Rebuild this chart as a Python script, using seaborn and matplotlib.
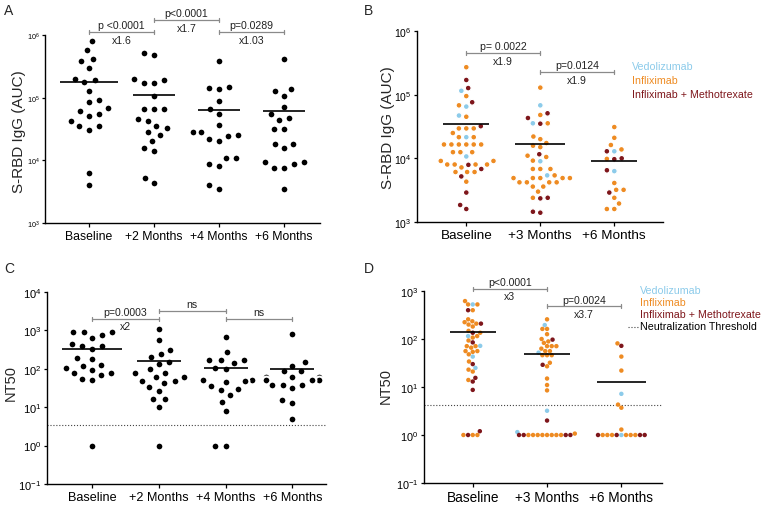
import numpy as np
import pandas as pd
import matplotlib
matplotlib.use("Agg")
import matplotlib.pyplot as plt
from matplotlib.lines import Line2D
from matplotlib.ticker import NullLocator
import seaborn as sns

sns.set_theme(style="ticks")
plt.rcParams["font.family"] = ["Liberation Sans", "DejaVu Sans"]
plt.rcParams["mathtext.default"] = "regular"

# ---------------- data ----------------
timepoints_AC = ["Baseline", "+2 Months", "+4 Months", "+6 Months"]
timepoints_BD = ["Baseline", "+3 Months", "+6 Months"]
treatments = ["Vedolizumab", "Infliximab", "Infliximab + Methotrexate"]
treatment_colors = ["#8CCBEA", "#EE8B22", "#7E161B"]

# Panel A: S-RBD IgG (AUC)
A_baseline = [7.9e5, 5.7e5, 4.2e5, 3.8e5, 3.0e5, 2.0e5, 1.8e5, 1.9e5, 1.3e5, 9.1e4, 8.4e4,
              6.8e4, 6.2e4, 5.5e4, 5.1e4, 4.3e4, 3.5e4, 3.5e4, 3.1e4, 6.2e3, 4.1e3]
A_2m = [5.1e5, 4.8e5, 2.0e5, 1.9e5, 1.7e5, 1.7e5, 1.07e5, 6.5e4, 6.5e4, 6.5e4, 4.6e4,
        4.3e4, 3.5e4, 3.3e4, 2.8e4, 2.5e4, 2.0e4, 1.55e4, 1.4e4, 5.2e3, 4.4e3]
A_4m = [3.9e5, 1.48e5, 1.45e5, 1.35e5, 8.7e4, 6.5e4, 5.5e4, 3.6e4, 2.8e4, 2.8e4, 2.5e4,
        2.45e4, 2.2e4, 2.0e4, 1.07e4, 1.07e4, 8.7e3, 8.1e3, 4.0e3, 3.5e3]
A_6m = [4.2e5, 1.38e5, 1.29e5, 1.07e5, 7.1e4, 5.4e4, 4.7e4, 4.4e4, 3.2e4, 3.2e4, 1.8e4,
        1.8e4, 1.55e4, 9.5e3, 9.3e3, 8.7e3, 7.6e3, 7.6e3, 3.5e3]

# Panel C: NT50
C_baseline = [912, 912, 912, 776, 650, 445, 385, 385, 333, 186, 182, 124, 115, 104, 91,
              79, 79, 68, 55, 50, 1]
C_2m = [1110, 560, 316, 250, 200, 150, 135, 96, 78, 78, 60, 60, 49, 49, 43, 33, 26, 16,
        16, 10, 1]
C_4m = [690, 280, 170, 170, 165, 142, 103, 100, 50, 50, 47, 46, 35, 30, 28, 21, 14, 8, 1, 1]
C_6m = [822, 152, 117, 87, 87, 63, 63, 63, 63, 50, 50, 50, 39, 39, 39, 32, 15, 13, 5]
C_threshold = 3.5

# Panel B: S-RBD IgG (AUC) by treatment
B_base_vedo = [1.15e5, 6.5e4, 4.7e4, 2.15e4, 1.07e4]
B_base_infl = [2.7e5, 9.5e4, 6.8e4, 4.5e4, 2.95e4, 2.95e4, 2.95e4, 2.5e4, 2.15e4, 2.15e4,
               1.65e4, 1.65e4, 1.65e4, 1.65e4, 1.65e4, 1.65e4, 1.25e4, 1.25e4, 1.25e4,
               9.1e3, 9.1e3, 8.0e3, 8.0e3, 8.0e3, 8.0e3, 7.2e3, 6.1e3, 6.1e3, 6.1e3, 4.3e3]
B_base_mtx = [1.7e5, 1.27e5, 7.6e4, 3.2e4, 7.9e3, 6.8e3, 5.2e3, 2.9e3, 1.85e3, 1.6e3]
B_3m_vedo = [6.8e4, 3.55e4, 9.0e3, 5.4e3]
B_3m_infl = [1.29e5, 4.8e4, 3.55e4, 2.2e4, 2.0e4, 1.74e4, 1.58e4, 1.5e4, 1.1e4, 1.05e4,
             9.2e3, 6.8e3, 6.8e3, 6.8e3, 5.4e3, 4.9e3, 4.9e3, 4.9e3, 4.9e3, 4.9e3,
             4.2e3, 4.2e3, 4.2e3, 4.2e3, 3.6e3, 3.6e3, 3.0e3, 2.4e3]
B_3m_mtx = [5.1e4, 4.3e4, 3.5e4, 1.16e4, 2.4e3, 2.35e3, 1.45e3, 1.4e3]
B_6m_vedo = [1.29e4, 6.3e3]
B_6m_infl = [3.1e4, 2.1e4, 1.62e4, 1.38e4, 9.8e3, 4.1e3, 3.2e3, 3.2e3, 2.4e3, 1.95e3,
             1.6e3, 1.6e3]
B_6m_mtx = [1.29e4, 1.0e4, 9.7e3, 6.5e3, 2.9e3]

# Panel D: NT50 by treatment
D_base_vedo = [525, 115, 72, 43, 25]
D_base_infl = [617, 525, 525, 398, 257, 234, 224, 209, 200, 182, 148, 135, 115, 107, 93,
               71, 71, 66, 56, 56, 54, 48, 34, 23, 21, 14, 1, 1, 1]
D_base_mtx = [398, 209, 135, 85, 30, 15.5, 13, 8.7, 1.2, 1]
D_3m_vedo = [195, 52, 3.2, 1.15]
D_3m_infl = [257, 162, 162, 126, 100, 89, 83, 71, 71, 71, 63, 56, 56, 46, 46, 46, 32, 27,
             15, 11, 8.5, 1.07, 1, 1, 1, 1, 1, 1, 1, 1]
D_3m_mtx = [97, 29, 2.0, 1, 1, 1, 1]
D_6m_vedo = [7.2, 1]
D_6m_infl = [81, 43, 22, 4.3, 3.7, 1.3, 1, 1, 1, 1, 1, 1]
D_6m_mtx = [72, 1, 1, 1, 1]
D_threshold = 4.3

# ---------------- tables ----------------
def simple_df(times, groups):
    return pd.DataFrame({"time": np.repeat(times, [len(g) for g in groups]),
                         "value": np.concatenate(groups)})


def treat_df(times, per_time):
    rows = []
    for t, groups in zip(times, per_time):
        for tr, vals in zip(treatments, groups):
            for v in vals:
                rows.append((t, tr, v))
    return pd.DataFrame(rows, columns=["time", "treatment", "value"])


dfA = simple_df(timepoints_AC, [A_baseline, A_2m, A_4m, A_6m])
dfC = simple_df(timepoints_AC, [C_baseline, C_2m, C_4m, C_6m])
dfB = treat_df(timepoints_BD, [[B_base_vedo, B_base_infl, B_base_mtx],
                               [B_3m_vedo, B_3m_infl, B_3m_mtx],
                               [B_6m_vedo, B_6m_infl, B_6m_mtx]])
dfD = treat_df(timepoints_BD, [[D_base_vedo, D_base_infl, D_base_mtx],
                               [D_3m_vedo, D_3m_infl, D_3m_mtx],
                               [D_6m_vedo, D_6m_infl, D_6m_mtx]])

# ---------------- figure ----------------
W, H = 763, 506
fig = plt.figure(figsize=(W / 100, H / 100), dpi=100)


def rect(l, r, t, b):
    return [l / W, 1 - b / H, (r - l) / W, (b - t) / H]


GREY = "#8a8a8a"
palette = dict(zip(treatments, treatment_colors))


def panel(r, df, order, xlim, ylim, size, lw, hue, halfw, xfs, yfs):
    ax = fig.add_axes(r)
    ax.set_yscale("log")
    kws = dict(data=df, x="time", y="value", order=order, size=size, linewidth=lw,
               edgecolor="white", ax=ax, zorder=2)
    if hue:
        sns.swarmplot(hue="treatment", hue_order=treatments, palette=palette,
                      legend=False, **kws)
    else:
        sns.swarmplot(color="black", **kws)
    means = df.groupby("time")["value"].mean().reindex(order).values
    pos = np.arange(len(order))
    hw = np.asarray(halfw)
    ax.hlines(means, pos - hw, pos + hw, color="black", lw=1.2, zorder=3)
    ax.set_xlim(*xlim)
    ax.set_ylim(*ylim)
    lo, hi = int(np.log10(ylim[0])), int(np.log10(ylim[1]))
    ax.set_yticks([10.0 ** k for k in range(lo, hi + 1)])
    ax.yaxis.set_minor_locator(NullLocator())
    ax.set_xlabel("")
    ax.set_ylabel("")
    sns.despine(ax=ax)
    for s in ("left", "bottom"):
        ax.spines[s].set_linewidth(1.0)
        ax.spines[s].set_color("black")
    ax.tick_params(axis="x", length=3, width=0.9, pad=2, labelsize=xfs, colors="black")
    ax.tick_params(axis="y", length=2.5, width=0.9, pad=1.5, labelsize=yfs, colors="black")
    return ax


def bracket(ax, x0, x1, yfrac, hpx, top, bottom=None):
    tr = ax.get_xaxis_transform()
    t = 2.0 / hpx
    ax.plot([x0, x1], [yfrac, yfrac], transform=tr, color=GREY, lw=0.9, clip_on=False)
    for xx in (x0, x1):
        ax.plot([xx, xx], [yfrac - t, yfrac + t], transform=tr, color=GREY, lw=0.9,
                clip_on=False)
    xm = (x0 + x1) / 2
    ax.annotate(top, (xm, yfrac), xycoords=tr, xytext=(0, 4.8), textcoords="offset points",
                ha="center", va="center", fontsize=7.6, color="#222222")
    if bottom:
        ax.annotate(bottom, (xm, yfrac), xycoords=tr, xytext=(0, -5.6),
                    textcoords="offset points", ha="center", va="center", fontsize=7.6,
                    color="#222222")


# Panel A
axA = panel(rect(45, 320, 36, 224), dfA, timepoints_AC, (-0.677, 3.554), (1e3, 1e6),
            5.6, 1.5, False, [0.45, 0.33, 0.33, 0.33], 8.8, 5.2)
bracket(axA, 0, 1, 1.016, 188, "p <0.0001", "x1.6")
bracket(axA, 1, 2, 1.081, 188, "p<0.0001", "x1.7")
bracket(axA, 2, 3, 1.016, 188, "p=0.0289", "x1.03")

# Panel B
axB = panel(rect(417, 663, 32, 223), dfB, timepoints_BD, (-0.666, 2.658), (1e3, 1e6),
            4.2, 0.9, True, [0.31, 0.34, 0.31], 9.7, 7.5)
bracket(axB, 0, 1, 0.884, 190, "p= 0.0022", "x1.9")
bracket(axB, 1, 2, 0.785, 190, "p=0.0124", "x1.9")

# Panel C
axC = panel(rect(47, 326, 293, 485), dfC, timepoints_AC, (-0.678, 3.503), (1e-1, 1e4),
            5.6, 1.5, False, [0.45, 0.33, 0.33, 0.33], 9.1, 8.0)
axC.axhline(C_threshold, color="#444444", lw=0.8, ls=":", zorder=1)
bracket(axC, 0, 1, 0.861, 192, "p=0.0003", "x2")
bracket(axC, 1, 2, 0.901, 192, "ns")
bracket(axC, 2, 3, 0.861, 192, "ns")

# Panel D
axD = panel(rect(424, 662, 292, 484), dfD, timepoints_BD, (-0.656, 2.547), (1e-1, 1e3),
            3.2, 0.0, True, [0.31, 0.31, 0.33], 9.8, 7.8)
axD.axhline(D_threshold, color="#444444", lw=0.8, ls=":", zorder=1)
bracket(axD, 0, 1, 1.012, 192, "p<0.0001", "x3")
bracket(axD, 1, 2, 0.920, 192, "p=0.0024", "x3.7")

# y labels
fig.text(19 / W, 1 - 132 / H, "S-RBD IgG (AUC)", rotation=90, ha="center", va="center",
         fontsize=11)
fig.text(388 / W, 1 - 128 / H, "S-RBD IgG (AUC)", rotation=90, ha="center", va="center",
         fontsize=11)
fig.text(11 / W, 1 - 383 / H, "NT50", rotation=90, ha="center", va="center", fontsize=10.5)
fig.text(386 / W, 1 - 386 / H, "NT50", rotation=90, ha="center", va="center", fontsize=10.5)

# panel letters
for letter, (px, py) in zip("ABCD", [(4, 11), (364, 11), (4, 269), (364, 269)]):
    fig.text(px / W, 1 - py / H, letter, ha="left", va="center", fontsize=10)

# legends (coloured text)
for i, (name, col) in enumerate(zip(treatments, treatment_colors)):
    fig.text(632 / W, 1 - (67 + 14 * i) / H, name, color=col, fontsize=7.7, ha="left",
             va="center")
    fig.text(640 / W, 1 - (291 + 12.2 * i) / H, name, color=col, fontsize=7.7, ha="left",
             va="center")
fig.add_artist(Line2D([628 / W, 639 / W], [1 - 327.5 / H, 1 - 327.5 / H], color="#444444",
                      lw=0.8, ls=":"))
fig.text(640 / W, 1 - 327.5 / H, "Neutralization Threshold", color="black", fontsize=7.7,
         ha="left", va="center")

fig.savefig("out.png", dpi=100)
